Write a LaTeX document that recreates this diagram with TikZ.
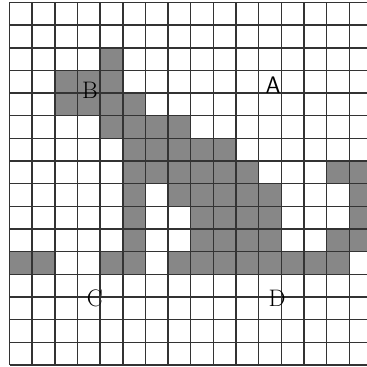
\documentclass[tikz,border=0pt]{standalone}
\usepackage{tikz}
\usetikzlibrary{positioning}

\begin{document}
\begin{tikzpicture}[x=0.6cm,y=0.6cm,every node/.append style={inner sep=0pt}]
    \tikzstyle{cell}=[fill=black!47]
    \tikzstyle{gridline}=[draw=black!80, line width=1.1pt, step=1]
    \tikzstyle{letter}=[font=\fontsize{18}{18}\selectfont]
    \useasboundingbox (-0.42,-0.09) rectangle (15.78,16.11);
    \clip (-0.42,-0.09) rectangle (15.78,16.11);
    % shaded squares, row counted from the top
    \foreach \r/\cols in {2/{4},3/{2,3,4},4/{2,3,4,5},5/{4,5,6,7},
        6/{5,6,7,8,9},7/{5,6,7,8,9,10,14,15},8/{5,7,8,9,10,11,15},
        9/{5,8,9,10,11,15},10/{5,8,9,10,11,14,15},
        11/{0,1,4,5,7,8,9,10,11,12,13,14}} {
        \foreach \c in \cols {
            \fill[cell] ({\c},{15-\r}) rectangle ++(1,1);
        }
    }
    \draw[gridline] (0,0) grid (16,16);
    \node[letter, font=\fontsize{18}{18}\selectfont\sffamily] (a) at (11.63,12.36) {A};
    \node[letter] (b) at (3.55,12.14) {B};
    \node[letter] (c) at (3.77,2.95) {C};
    \node[letter] (d) at (11.81,2.95) {D};
\end{tikzpicture}
\end{document}
